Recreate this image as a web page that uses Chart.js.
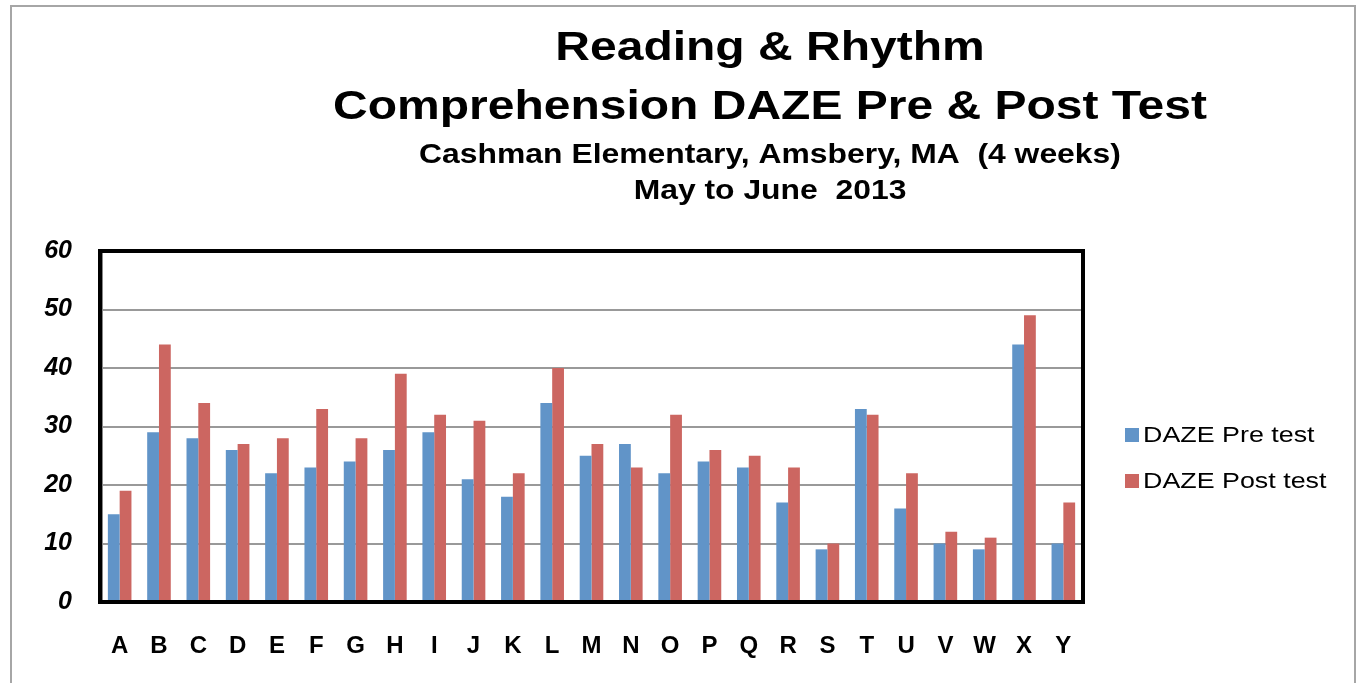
<!DOCTYPE html>
<html>
<head>
<meta charset="utf-8">
<script src="https://cdn.jsdelivr.net/npm/chart.js@4.4.0/dist/chart.umd.min.js"></script>
<style>
  html, body { margin: 0; padding: 0; background: #fff; }
  #wrap { width: 1358px; height: 683px; position: relative; }
</style>
</head>
<body>
<div id="wrap"><canvas id="myChart" width="1358" height="683"></canvas></div>
<script>
'use strict';

let students = ['A','B','C','D','E','F','G','H','I','J','K','L','M','N','O','P','Q','R','S','T','U','V','W','X','Y'];
let preTest  = [15, 29, 28, 26, 22, 23, 24, 26, 29, 21, 18, 34, 25, 27, 22, 24, 23, 17, 9, 33, 16, 10, 9, 44, 10];
let postTest = [19, 44, 34, 27, 28, 33, 28, 39, 32, 31, 22, 40, 27, 23, 32, 26, 25, 23, 10, 32, 22, 12, 11, 49, 17];
let yTicks = [0, 10, 20, 30, 40, 50, 60];

let titleLines = ['Reading & Rhythm', 'Comprehension DAZE Pre & Post Test'];
let subLines = ['Cashman Elementary, Amsbery, MA  (4 weeks)', 'May to June  2013'];

let blue = '#6194C8';
let red = '#CC6661';
let font = '"Liberation Sans", Arial, sans-serif';

// the original text looks a bit wider than normal, so stretch it
function wideText(ctx, text, x, y, sx) {
  ctx.save();
  ctx.translate(x, y);
  ctx.scale(sx, 1);
  ctx.fillText(text, 0, 0);
  ctx.restore();
}

// draws frame, titles, plot border and legend
let decor = {
  id: 'decor',
  beforeDraw(chart) {
    let ctx = chart.ctx;
    ctx.save();
    ctx.fillStyle = '#fff';
    ctx.fillRect(0, 0, chart.width, chart.height);
    ctx.strokeStyle = '#a6a6a6';
    ctx.lineWidth = 2;
    ctx.beginPath();
    ctx.moveTo(11, 690);
    ctx.lineTo(11, 6);
    ctx.lineTo(1355, 6);
    ctx.lineTo(1355, 690);
    ctx.stroke();
    ctx.restore();
  },
  afterDatasetsDraw(chart) {
    let ctx = chart.ctx;
    let a = chart.chartArea;
    ctx.save();
    ctx.strokeStyle = '#000';
    ctx.lineWidth = 4;
    ctx.strokeRect(a.left, a.top, a.right - a.left, a.bottom - a.top);
    ctx.strokeStyle = '#888';
    ctx.lineWidth = 1;
    ctx.beginPath();
    ctx.moveTo(a.left + 2.5, a.top + 2);
    ctx.lineTo(a.left + 2.5, a.bottom - 2);
    ctx.stroke();

    ctx.fillStyle = '#000';
    ctx.textAlign = 'center';
    ctx.textBaseline = 'alphabetic';
    ctx.font = 'bold 40px ' + font;
    wideText(ctx, titleLines[0], 770, 60, 1.2);
    wideText(ctx, titleLines[1], 770, 119, 1.2);
    ctx.font = 'bold 27px ' + font;
    wideText(ctx, subLines[0], 770, 163, 1.18);
    wideText(ctx, subLines[1], 770, 199, 1.18);

    // legend
    let items = chart.data.datasets;
    ctx.textAlign = 'left';
    ctx.font = '22px ' + font;
    for (let i = 0; i < items.length; i++) {
      let y = 435 + i * 46;
      ctx.fillStyle = items[i].backgroundColor;
      ctx.fillRect(1125, y - 7, 14, 14);
      ctx.fillStyle = '#000';
      ctx.textBaseline = 'middle';
      wideText(ctx, items[i].label, 1143, y + 1, 1.22);
    }
    ctx.restore();
  }
};

let ctx = document.getElementById('myChart').getContext('2d');
let myChart = new Chart(ctx, {
  type: 'bar',
  data: {
    labels: students,
    datasets: [{
      label: 'DAZE Pre test',
      data: preTest,
      backgroundColor: blue,
      borderWidth: 0
    }, {
      label: 'DAZE Post test',
      data: postTest,
      backgroundColor: red,
      borderWidth: 0
    }]
  },
  options: {
    responsive: false,
    animation: false,
    categoryPercentage: 0.6,
    barPercentage: 1,
    layout: {
      padding: { top: 251, right: 275, bottom: 10, left: 0 }
    },
    plugins: {
      legend: { display: false },
      title: { display: false },
      tooltip: { enabled: false }
    },
    scales: {
      x: {
        grid: { display: false },
        border: { display: false },
        ticks: {
          color: '#000',
          padding: 22,
          font: { family: font, size: 24, weight: 'bold' },
          maxRotation: 0,
          autoSkip: false
        },
        afterFit(scale) { scale.height = 71; }
      },
      y: {
        min: 0,
        max: 60,
        afterBuildTicks(scale) { scale.ticks = yTicks.map(v => ({ value: v })); },
        grid: { color: '#999', lineWidth: 2, drawTicks: false },
        border: { display: false },
        ticks: {
          color: '#000',
          padding: 28,
          font: { family: font, size: 25, weight: 'bold', style: 'italic' }
        },
        afterFit(scale) { scale.width = 100; }
      }
    }
  },
  plugins: [decor]
});
</script>
</body>
</html>
